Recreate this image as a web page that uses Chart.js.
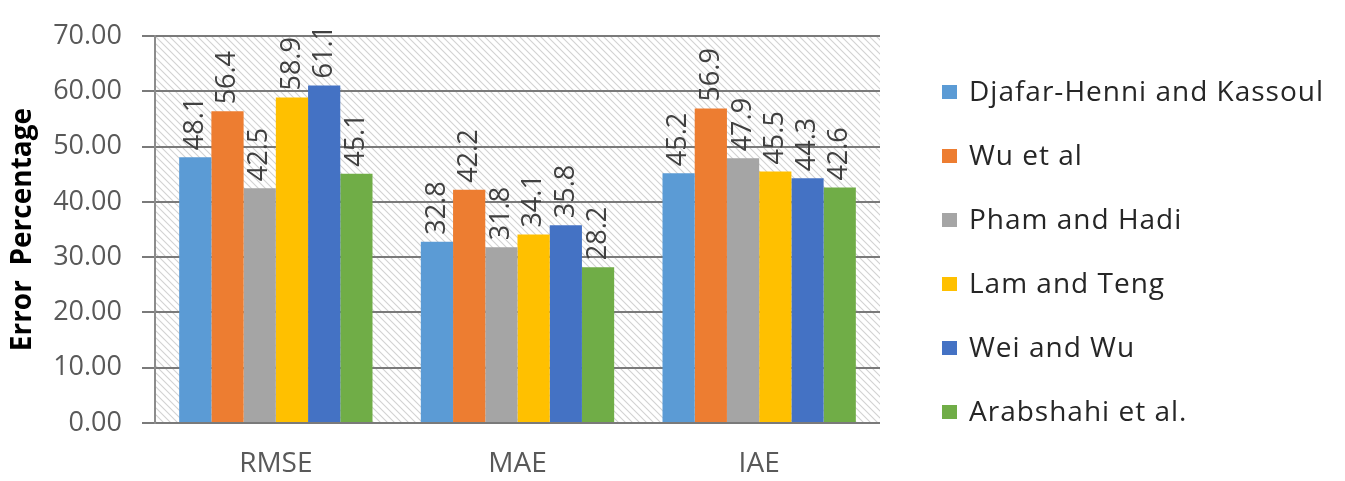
<!DOCTYPE html>
<html>
<head>
<meta charset="utf-8">
<script src="https://cdn.jsdelivr.net/npm/chart.js@4.4.0/dist/chart.umd.min.js"></script>
<style>
  html, body { margin: 0; padding: 0; background: #ffffff; }
  #wrap { width: 1345px; height: 481px; position: relative; }
</style>
</head>
<body>
<div id="wrap"><canvas id="errChart"></canvas></div>
<script>
// données
const categories = ['RMSE', 'MAE', 'IAE'];
const seriesNames = ['Djafar-Henni and Kassoul', 'Wu et al', 'Pham and Hadi', 'Lam and Teng', 'Wei and Wu', 'Arabshahi et al.'];
const djafarHenni = [48.1, 32.8, 45.2];
const wuEtAl = [56.4, 42.2, 56.9];
const phamHadi = [42.5, 31.8, 47.9];
const lamTeng = [58.9, 34.1, 45.5];
const weiWu = [61.1, 35.8, 44.3];
const arabshahi = [45.1, 28.2, 42.6];
const yTicks = [0, 10, 20, 30, 40, 50, 60, 70];

const seriesData = [djafarHenni, wuEtAl, phamHadi, lamTeng, weiWu, arabshahi];
const colors = ['#5B9BD5', '#ED7D31', '#A5A5A5', '#FFC000', '#4472C4', '#70AD47'];
const FONT = '"Open Sans", sans-serif';

// fond hachuré (style Excel)
function makeHatch() {
    const c = document.createElement('canvas');
    c.width = 7; c.height = 7;
    const g = c.getContext('2d');
    g.fillStyle = '#ffffff';
    g.fillRect(0, 0, 7, 7);
    g.strokeStyle = '#d2d2d2';
    g.lineWidth = 1.1;
    g.beginPath();
    g.moveTo(-2, -2); g.lineTo(9, 9);
    g.moveTo(-2, 5); g.lineTo(2, 9);
    g.moveTo(5, -2); g.lineTo(9, 2);
    g.stroke();
    return c;
}

const hatchPlugin = {
    id: 'hatchBg',
    beforeDraw(chart) {
        const { ctx, chartArea: a } = chart;
        ctx.save();
        ctx.fillStyle = ctx.createPattern(makeHatch(), 'repeat');
        ctx.fillRect(a.left, a.top, a.right - a.left, a.bottom - a.top);
        ctx.restore();
    }
};

// étiquettes verticales au-dessus des barres
const valueLabels = {
    id: 'valueLabels',
    afterDatasetsDraw(chart) {
        const ctx = chart.ctx;
        ctx.save();
        ctx.font = '27px ' + FONT;
        ctx.fillStyle = '#404040';
        ctx.textAlign = 'left';
        ctx.textBaseline = 'middle';
        chart.data.datasets.forEach((ds, i) => {
            chart.getDatasetMeta(i).data.forEach((bar, j) => {
                ctx.save();
                ctx.translate(bar.x, bar.y - 7);
                ctx.rotate(-Math.PI / 2);
                ctx.fillText(ds.data[j].toFixed(1), 0, 0);
                ctx.restore();
            });
        });
        ctx.restore();
    }
};

// légende à droite (celle de Chart.js est limitée en largeur)
const sideLegend = {
    id: 'sideLegend',
    afterDraw(chart) {
        const ctx = chart.ctx;
        const x0 = chart.chartArea.right + 62;
        const y0 = 92, step = 64;
        ctx.save();
        ctx.font = '28px ' + FONT;
        ctx.letterSpacing = '1px';
        ctx.textBaseline = 'middle';
        ctx.textAlign = 'left';
        chart.data.datasets.forEach((ds, i) => {
            const y = y0 + i * step;
            ctx.fillStyle = ds.backgroundColor;
            ctx.fillRect(x0, y - 7, 15, 14);
            ctx.fillStyle = '#262626';
            ctx.fillText(ds.label, x0 + 27, y + 1);
        });
        ctx.restore();
    }
};

new Chart(document.getElementById('errChart'), {
    type: 'bar',
    data: {
        labels: categories,
        datasets: seriesNames.map((name, i) => ({
            label: name,
            data: seriesData[i],
            backgroundColor: colors[i],
            borderWidth: 0,
            categoryPercentage: 0.8,
            barPercentage: 1.0
        }))
    },
    options: {
        responsive: true,
        maintainAspectRatio: false,
        animation: false,
        layout: { padding: { top: 29, right: 465, left: 0, bottom: 0 } },
        plugins: {
            legend: { display: false },
            tooltip: { enabled: false }
        },
        scales: {
            x: {
                grid: { display: false },
                border: { display: false },
                ticks: { color: '#595959', font: { family: FONT, size: 28 }, padding: 16 },
                afterFit: (s) => { s.height = 58; }
            },
            y: {
                min: 0,
                max: 70,
                afterBuildTicks: (axis) => { axis.ticks = yTicks.map(v => ({ value: v })); },
                grid: { color: '#7a7a7a', lineWidth: 2, tickLength: 13, drawTicks: true },
                border: { display: true, color: '#8c8c8c', width: 2 },
                ticks: {
                    color: '#595959',
                    font: { family: FONT, size: 27 },
                    padding: 20,
                    callback: (v) => v.toFixed(2)
                },
                title: {
                    display: true,
                    text: 'Error  Percentage',
                    color: '#000000',
                    padding: { top: 6, bottom: 0 },
                    font: { family: FONT, size: 28, weight: 'bold' }
                },
                afterFit: (s) => { s.width = 155; }
            }
        }
    },
    plugins: [hatchPlugin, valueLabels, sideLegend]
});
</script>
</body>
</html>
